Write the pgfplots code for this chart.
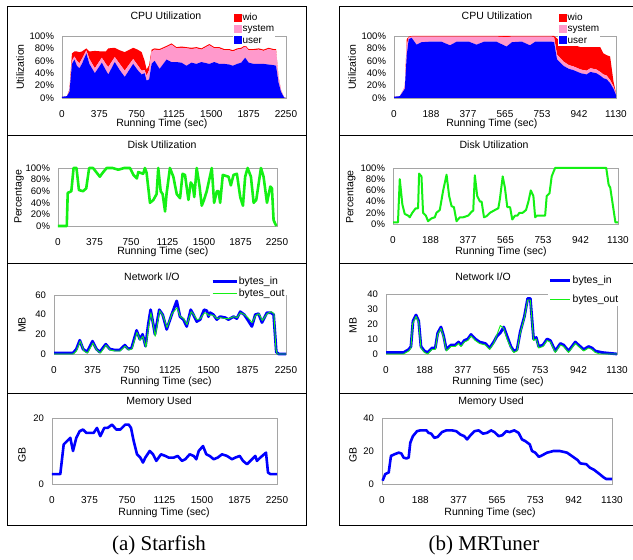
\documentclass[border=0pt]{standalone}
\usepackage{pgfplots}
\pgfplotsset{compat=1.18}
\usepackage{fontspec}
\setmainfont{Liberation Sans}
\newfontfamily\capfont{Liberation Serif}
\definecolor{cpink}{RGB}{255,153,204}
\definecolor{cgreen}{RGB}{20,240,20}
\definecolor{framegray}{RGB}{165,165,165}
\pgfplotsset{
  panel/.style={
    scale only axis,
    axis line style={framegray, line width=0.8pt},
    major tick length=0pt,
    tick style={draw=none},
    xticklabel style={font=\fontsize{10}{12}\selectfont, yshift=-9pt},
    yticklabel style={font=\fontsize{9.5}{12}\selectfont, xshift=-4.5pt},
    label style={font=\fontsize{10.5}{12}\selectfont},
    title style={font=\fontsize{10.5}{12}\selectfont, anchor=center},
    xlabel={Running Time (sec)},
    xlabel style={anchor=center},
    ylabel style={anchor=center},
    /pgf/number format/assume math mode=true,
    clip=false,
  },
  leftx/.style={xmin=0, xmax=2250, xtick={0,375,750,1125,1500,1875,2250},
    xticklabels={0,375,750,1125,1500,1875,2250}},
  rightx/.style={xmin=0, xmax=1130, xtick={0,188.333,376.667,565,753.333,941.667,1130},
    xticklabels={0,188,377,565,753,942,1130}},
  pcty/.style={ymin=0, ymax=100, ytick={0,20,40,60,80,100},
    yticklabels={0\%,20\%,40\%,60\%,80\%,100\%}},
  cpulegend/.style={
    reverse legend,
    legend cell align=left,
    legend image code/.code={\fill[##1] (0pt,-4pt) rectangle (8.5pt,4.5pt);},
    legend style={at={(axis description cs:#1)}, anchor=north west, draw=none, fill=white,
      font=\fontsize{10}{11}\selectfont, inner sep=0.5pt, row sep=0pt,
      nodes={inner sep=0.4pt, text height=7.9pt, text depth=2.4pt}},
  },
}
\begin{document}
\begin{tikzpicture}
\useasboundingbox (0pt,0pt) rectangle (633pt,560pt);
\fill[white] (0pt,0pt) rectangle (633pt,560pt);

% ---------- CPU Starfish ----------
\begin{axis}[panel, leftx, pcty, at={(62pt,462pt)}, anchor=south west, width=224pt, height=62pt,
  stack plots=y, clip=true,
  title={CPU Utilization}, title style={at={(axis description cs:0.464,1.226)}},
  xlabel style={at={(axis description cs:0.446,-0.419)}},
  ylabel={Utilization}, ylabel style={at={(axis description cs:-0.1875,0.5)}},
  cpulegend={0.763,1.39}]
\addplot[fill=blue, draw=none] table[x=t,y=u] {
t u s w
0 2 0 0
50 3 0 0
75 10 2 2
100 55 5 12
125 62 5 8
150 52 8 15
175 48 8 18
200 55 8 12
245 72 5 3
275 55 8 12
330 40 8 28
400 57 8 10
440 45 10 20
465 38 12 30
530 58 8 15
580 45 10 22
630 34 10 30
715 55 8 18
760 45 8 25
800 38 6 30
830 40 5 15
850 28 8 10
875 30 15 8
900 55 20 3
930 60 18 2
980 47 30 2
1050 62 20 2
1100 58 28 2
1150 58 22 2
1200 57 24 2
1250 52 28 2
1300 57 22 2
1350 55 25 2
1400 58 20 2
1480 55 30 2
1530 58 22 2
1580 55 25 2
1630 55 22 2
1680 54 23 2
1715 52 23 2
1760 55 23 2
1800 57 22 2
1840 65 18 2
1875 57 20 2
1925 55 22 2
1975 55 23 2
2025 55 21 2
2075 54 25 2
2125 53 24 2
2150 52 25 2
2175 25 8 1
2200 10 3 0
2230 1 0 0
2250 0 0 0
} \closedcycle;
\addlegendentry{user}
\addplot[fill=cpink, draw=none] table[x=t,y=s] {
t u s w
0 2 0 0
50 3 0 0
75 10 2 2
100 55 5 12
125 62 5 8
150 52 8 15
175 48 8 18
200 55 8 12
245 72 5 3
275 55 8 12
330 40 8 28
400 57 8 10
440 45 10 20
465 38 12 30
530 58 8 15
580 45 10 22
630 34 10 30
715 55 8 18
760 45 8 25
800 38 6 30
830 40 5 15
850 28 8 10
875 30 15 8
900 55 20 3
930 60 18 2
980 47 30 2
1050 62 20 2
1100 58 28 2
1150 58 22 2
1200 57 24 2
1250 52 28 2
1300 57 22 2
1350 55 25 2
1400 58 20 2
1480 55 30 2
1530 58 22 2
1580 55 25 2
1630 55 22 2
1680 54 23 2
1715 52 23 2
1760 55 23 2
1800 57 22 2
1840 65 18 2
1875 57 20 2
1925 55 22 2
1975 55 23 2
2025 55 21 2
2075 54 25 2
2125 53 24 2
2150 52 25 2
2175 25 8 1
2200 10 3 0
2230 1 0 0
2250 0 0 0
} \closedcycle;
\addlegendentry{system}
\addplot[fill=red, draw=none] table[x=t,y=w] {
t u s w
0 2 0 0
50 3 0 0
75 10 2 2
100 55 5 12
125 62 5 8
150 52 8 15
175 48 8 18
200 55 8 12
245 72 5 3
275 55 8 12
330 40 8 28
400 57 8 10
440 45 10 20
465 38 12 30
530 58 8 15
580 45 10 22
630 34 10 30
715 55 8 18
760 45 8 25
800 38 6 30
830 40 5 15
850 28 8 10
875 30 15 8
900 55 20 3
930 60 18 2
980 47 30 2
1050 62 20 2
1100 58 28 2
1150 58 22 2
1200 57 24 2
1250 52 28 2
1300 57 22 2
1350 55 25 2
1400 58 20 2
1480 55 30 2
1530 58 22 2
1580 55 25 2
1630 55 22 2
1680 54 23 2
1715 52 23 2
1760 55 23 2
1800 57 22 2
1840 65 18 2
1875 57 20 2
1925 55 22 2
1975 55 23 2
2025 55 21 2
2075 54 25 2
2125 53 24 2
2150 52 25 2
2175 25 8 1
2200 10 3 0
2230 1 0 0
2250 0 0 0
} \closedcycle;
\addlegendentry{wio}
\end{axis}

% ---------- CPU MRTuner ----------
\begin{axis}[panel, rightx, pcty, at={(394pt,462pt)}, anchor=south west, width=222pt, height=62pt,
  stack plots=y, clip=true,
  title={CPU Utilization}, title style={at={(axis description cs:0.464,1.226)}},
  xlabel style={at={(axis description cs:0.441,-0.419)}},
  ylabel={Utilization}, ylabel style={at={(axis description cs:-0.189,0.5)}},
  cpulegend={0.739,1.39}]
\addplot[fill=blue, draw=none] table[x=t,y=u] {
t u s w
0 2 0 0
30 3 0 0
45 10 2 0
55 15 3 0
65 70 15 10
75 95 3 1
90 97 2 1
115 86 13 1
140 90 9 1
190 91 8 1
240 91 8 1
285 85 14 1
320 91 8 1
380 91 8 1
420 86 13 1
460 91 8 1
520 91 8 1
573 83 15 2
600 90 9 1
650 91 8 1
692 85 14 1
720 91 8 1
800 91 8 1
815 90 8 2
830 62 8 26
862 52 7 27
890 47 6 33
913 45 6 35
950 40 6 36
980 38 6 38
1000 42 6 34
1030 40 6 36
1050 36 6 40
1066 32 6 34
1083 30 6 33
1100 24 5 38
1117 15 4 8
1130 5 2 1
} \closedcycle;
\addlegendentry{user}
\addplot[fill=cpink, draw=none] table[x=t,y=s] {
t u s w
0 2 0 0
30 3 0 0
45 10 2 0
55 15 3 0
65 70 15 10
75 95 3 1
90 97 2 1
115 86 13 1
140 90 9 1
190 91 8 1
240 91 8 1
285 85 14 1
320 91 8 1
380 91 8 1
420 86 13 1
460 91 8 1
520 91 8 1
573 83 15 2
600 90 9 1
650 91 8 1
692 85 14 1
720 91 8 1
800 91 8 1
815 90 8 2
830 62 8 26
862 52 7 27
890 47 6 33
913 45 6 35
950 40 6 36
980 38 6 38
1000 42 6 34
1030 40 6 36
1050 36 6 40
1066 32 6 34
1083 30 6 33
1100 24 5 38
1117 15 4 8
1130 5 2 1
} \closedcycle;
\addlegendentry{system}
\addplot[fill=red, draw=none] table[x=t,y=w] {
t u s w
0 2 0 0
30 3 0 0
45 10 2 0
55 15 3 0
65 70 15 10
75 95 3 1
90 97 2 1
115 86 13 1
140 90 9 1
190 91 8 1
240 91 8 1
285 85 14 1
320 91 8 1
380 91 8 1
420 86 13 1
460 91 8 1
520 91 8 1
573 83 15 2
600 90 9 1
650 91 8 1
692 85 14 1
720 91 8 1
800 91 8 1
815 90 8 2
830 62 8 26
862 52 7 27
890 47 6 33
913 45 6 35
950 40 6 36
980 38 6 38
1000 42 6 34
1030 40 6 36
1050 36 6 40
1066 32 6 34
1083 30 6 33
1100 24 5 38
1117 15 4 8
1130 5 2 1
} \closedcycle;
\addlegendentry{wio}
\end{axis}

% ---------- Disk Starfish ----------
\begin{axis}[panel, leftx, pcty, at={(58pt,334pt)}, anchor=south west, width=219pt, height=58pt,
  title={Disk Utilization}, title style={at={(axis description cs:0.475,1.293)}},
  xlabel style={at={(axis description cs:0.479,-0.448)}},
  ylabel={Percentage}, ylabel style={at={(axis description cs:-0.178,0.5)}}]
\addplot[cgreen, line width=2.6pt, line join=round] coordinates {
(0,0) (90,0) (100,57) (137,60) (160,100) (190,100) (215,62) (258,60) (290,65) (320,100)
(360,100) (430,85) (460,92) (500,100) (560,100) (620,97) (680,100) (740,100) (775,88)
(810,82) (825,93) (875,90) (893,100) (910,92) (945,40) (980,45) (1013,55) (1030,100)
(1055,60) (1075,55) (1100,25) (1115,55) (1150,100) (1185,85) (1220,55) (1254,48)
(1280,90) (1305,88) (1340,45) (1364,75) (1385,70) (1400,50) (1425,100) (1453,70)
(1477,35) (1500,45) (1528,60) (1580,100) (1604,40) (1632,60) (1650,60) (1666,40)
(1693,88) (1752,85) (1776,70) (1803,88) (1838,90) (1872,50) (1900,35) (1923,85)
(1948,100) (1982,85) (2010,40) (2037,45) (2085,100) (2112,85) (2147,40) (2181,68)
(2198,65) (2215,10) (2243,0)
};
\end{axis}

% ---------- Disk MRTuner ----------
\begin{axis}[panel, rightx, pcty, at={(393pt,336pt)}, anchor=south west, width=225pt, height=56pt,
  title={Disk Utilization}, title style={at={(axis description cs:0.449,1.30)}},
  xlabel style={at={(axis description cs:0.48,-0.5)}},
  ylabel={Percentage}, ylabel style={at={(axis description cs:-0.187,0.48)}}]
\addplot[cgreen, line width=2pt, line join=round] coordinates {
(0,3) (25,3) (34,80) (47,35) (59,18) (76,15) (84,12) (97,20) (114,28) (126,28) (131,90)
(143,85) (151,20) (165,15) (176,5) (193,10) (210,12) (218,20) (235,25) (252,60) (269,88)
(282,50) (294,32) (306,30) (319,5) (336,12) (353,12) (378,15) (395,22) (403,24) (411,87)
(423,50) (437,40) (445,40) (457,12) (470,14) (487,20) (512,25) (529,28) (537,45) (551,85)
(562,65) (574,30) (588,30) (599,8) (613,15) (625,15) (635,20) (651,20) (668,25) (680,40)
(692,60) (705,50) (714,12) (722,15) (747,15) (764,15) (772,50) (786,55) (797,85)
(814,100) (850,100) (900,100) (950,100) (1000,100) (1050,100) (1071,100) (1083,70)
(1091,65) (1117,3) (1130,3)
};
\end{axis}

% ---------- Network Starfish ----------
\begin{axis}[panel, leftx, at={(54pt,206pt)}, anchor=south west, width=232pt, height=59pt,
  ymin=0, ymax=60, ytick={0,20,40,60}, yticklabels={0,20,40,60},
  title={Network I/O}, title style={at={(axis description cs:0.422,1.203)}},
  xlabel style={at={(axis description cs:0.483,-0.475)}},
  ylabel={MB}, ylabel style={at={(axis description cs:-0.138,0.49)}},
  legend cell align=left,
  legend image code/.code={\draw[#1] (0pt,0pt) -- (24pt,0pt);},
  legend style={at={(axis description cs:0.672,1.34)}, anchor=north west, draw=none, fill=white,
    font=\fontsize{10.5}{11}\selectfont, inner sep=1pt, row sep=1pt, nodes={inner sep=1pt}}]
\addplot[blue, line width=2.8pt, line join=round] coordinates {
(0,1) (185,1) (217,5) (250,14) (282,5) (321,2) (373,13) (412,5) (444,2) (502,10) (541,5)
(590,4) (639,4) (687,9) (720,5) (752,6) (801,24) (833,15) (859,20) (888,8) (914,30)
(937,45) (963,30) (979,20) (1021,45) (1054,40) (1093,25) (1141,40) (1190,54) (1222,38)
(1255,35) (1287,28) (1326,45) (1352,40) (1384,33) (1417,35) (1456,45) (1482,44) (1498,38)
(1514,42) (1546,40) (1579,35) (1611,38) (1660,37) (1692,35) (1741,38) (1773,36) (1806,43)
(1845,40) (1877,35) (1919,28) (1952,40) (1984,41) (2017,32) (2065,42) (2104,42) (2130,40)
(2156,2) (2179,0) (2250,0)
};
\addlegendentry{bytes\_in}
\addplot[cgreen, line width=0.9pt, line join=round] coordinates {
(0,0) (185,0) (217,3) (255,13) (290,3) (325,1) (378,11) (415,4) (450,1) (505,9) (545,4)
(595,3) (640,3) (690,8) (725,4) (755,5) (805,22) (835,14) (862,18) (892,7) (918,28)
(940,42) (966,28) (982,18) (1025,44) (1057,39) (1096,27) (1145,41) (1193,47) (1225,38)
(1258,36) (1290,30) (1330,43) (1355,40) (1387,35) (1420,36) (1460,42) (1485,41) (1501,39)
(1517,40) (1549,39) (1582,36) (1614,37) (1663,36) (1695,36) (1744,38) (1776,37) (1809,42)
(1848,40) (1880,37) (1922,32) (1955,39) (1987,41) (2020,34) (2068,41) (2107,43) (2133,41)
(2152,5) (2165,0) (2250,0)
};
\addlegendentry{bytes\_out}
\end{axis}

% ---------- Network MRTuner ----------
\begin{axis}[panel, rightx, at={(386pt,206pt)}, anchor=south west, width=231pt, height=60pt,
  ymin=0, ymax=40, ytick={0,10,20,30,40}, yticklabels={0,10,20,30,40},
  title={Network I/O}, title style={at={(axis description cs:0.42,1.18)}},
  xlabel style={at={(axis description cs:0.485,-0.467)}},
  ylabel={MB}, ylabel style={at={(axis description cs:-0.143,0.48)}},
  legend cell align=left,
  legend image code/.code={\draw[#1] (0pt,0pt) -- (20pt,0pt);},
  legend style={at={(axis description cs:0.70,1.333)}, anchor=north west, draw=none, fill=white,
    font=\fontsize{10.5}{11}\selectfont, inner sep=1pt, row sep=8pt, nodes={inner sep=1pt}}]
\addplot[blue, line width=2.8pt, line join=round] coordinates {
(0,1) (86,1) (111,3) (122,5) (132,22) (147,26) (160,22) (171,5) (188,2) (204,1) (225,4)
(241,4) (253,14) (269,18) (282,12) (295,3) (318,6) (339,6) (355,8) (367,6) (383,9) (400,10)
(416,13) (437,10) (458,8) (486,7) (507,4) (527,8) (543,12) (559,14) (576,18) (592,12)
(611,5) (625,2) (641,3) (657,15) (677,25) (693,37) (706,37) (722,10) (735,11) (747,5)
(768,6) (788,10) (804,9) (828,2) (853,7) (869,6) (893,2) (926,8) (942,6) (967,3) (991,5)
(1008,4) (1024,2) (1057,1) (1130,0)
};
\addlegendentry{bytes\_in}
\addplot[cgreen, line width=0.9pt, line join=round] coordinates {
(0,0) (86,0) (111,2) (122,4) (130,20) (147,25) (160,21) (171,4) (188,1) (204,0) (225,3)
(241,3) (253,13) (269,17) (282,11) (295,2) (318,5) (339,5) (355,7) (367,5) (383,8) (400,9)
(416,12) (437,9) (458,7) (486,6) (507,3) (527,7) (543,13) (559,19) (576,17) (592,10)
(611,4) (625,1) (641,2) (657,14) (677,24) (693,36) (706,36) (722,9) (735,10) (747,4)
(768,5) (788,9) (804,8) (828,1) (853,6) (869,5) (893,1) (926,7) (942,5) (967,2) (991,4)
(1008,3) (1024,1) (1045,0) (1130,0)
};
\addlegendentry{bytes\_out}
\end{axis}

% ---------- Memory Starfish ----------
\begin{axis}[panel, leftx, at={(52pt,76pt)}, anchor=south west, width=225pt, height=66pt,
  ymin=0, ymax=20, ytick={0,20}, yticklabels={0,20},
  title={Memory Used}, title style={at={(axis description cs:0.476,1.152)}},
  xlabel style={at={(axis description cs:0.498,-0.44)}},
  ylabel={GB}, ylabel style={at={(axis description cs:-0.133,0.44)}}]
\addplot[blue, line width=2.6pt, line join=round] coordinates {
(0,3) (83,3) (117,12) (150,13) (183,14) (210,10) (243,14) (277,16) (310,16.5) (343,15.5)
(383,15.5) (417,15.5) (450,17) (483,14.5) (523,17) (557,17) (600,18) (643,16.5) (683,16.5)
(733,18) (767,18) (790,17) (817,13) (850,9) (883,8) (910,6.5) (933,8) (977,10) (1010,9)
(1043,7) (1090,9) (1133,8.5) (1167,8) (1217,8) (1257,8.5) (1300,7) (1333,7.5) (1377,9)
(1417,8.5) (1443,7.5) (1467,10) (1510,11.5) (1543,9) (1577,8.5) (1617,7.5) (1657,8)
(1700,9) (1750,8.5) (1800,7.5) (1833,8) (1877,8.5) (1910,7) (1950,6) (1983,7) (2033,8.5)
(2050,7) (2083,8) (2140,9.5) (2160,3.5) (2183,3) (2250,3)
};
\end{axis}

% ---------- Memory MRTuner ----------
\begin{axis}[panel, rightx, at={(382pt,76pt)}, anchor=south west, width=230pt, height=66pt,
  ymin=0, ymax=40, ytick={0,20,40}, yticklabels={0,20,40},
  title={Memory Used}, title style={at={(axis description cs:0.474,1.152)}},
  xlabel style={at={(axis description cs:0.47,-0.44)}},
  ylabel={GB}, ylabel style={at={(axis description cs:-0.126,0.44)}}]
\addplot[blue, line width=2.6pt, line join=round] coordinates {
(3,2) (16,6) (33,7) (44,17) (61,18) (82,19) (95,18.5) (106,16) (120,15.5) (131,16) (139,25)
(152,29) (172,32) (188,32.5) (218,32.5) (229,31) (242,30.5) (257,28) (273,28.5) (295,31.5)
(316,32.5) (344,32.5) (365,32) (385,30) (404,29) (418,27) (431,29) (454,32) (475,32.5)
(496,30.5) (516,31) (536,32.5) (552,31.5) (573,29) (590,29.5) (611,32) (627,31.5)
(650,32.5) (671,31) (688,27) (704,26) (726,24) (737,20) (753,19) (770,16.5) (781,17)
(811,19) (843,20) (873,20) (909,19) (938,16.5) (961,14.5) (974,12.5) (1004,12) (1020,10)
(1043,8.5) (1069,6) (1089,4) (1102,3) (1130,3)
};
\end{axis}

% ---------- panel boxes ----------
\draw[line width=1pt] (7pt,553pt) rectangle (306pt,34pt);
\draw[line width=1pt] (7pt,424pt) -- (306pt,424pt) (7pt,296pt) -- (306pt,296pt) (7pt,166pt) -- (306pt,166pt);
\draw[line width=1pt] (640pt,553pt) -- (339pt,553pt) -- (339pt,34pt) -- (640pt,34pt);
\draw[line width=1pt] (339pt,424pt) -- (640pt,424pt) (339pt,296pt) -- (640pt,296pt) (339pt,166pt) -- (640pt,166pt);

% ---------- captions ----------
\node[font=\capfont\fontsize{21}{24}\selectfont] at (159pt,15pt) {(a) Starfish};
\node[font=\capfont\fontsize{21}{24}\selectfont] at (484pt,15pt) {(b) MRTuner};
\end{tikzpicture}
\end{document}
